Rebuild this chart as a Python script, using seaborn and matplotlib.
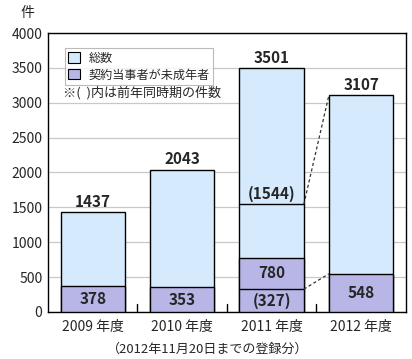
import matplotlib
matplotlib.use("Agg")
import matplotlib.pyplot as plt
import seaborn as sns
import pandas as pd
from matplotlib.patches import Patch

years = ["2009 年度", "2010 年度", "2011 年度", "2012 年度"]
total = [1437, 2043, 3501, 3107]
minor = [378, 353, 780, 548]
# 前年同時期の件数 (2011年度の棒の中に表示)
prev_total = 1544
prev_minor = 327

BLUE = "#d5eafc"
PURPLE = "#b8b6e6"

sns.set_theme(style="white")
plt.rcParams["font.family"] = ["Noto Sans CJK JP", "DejaVu Sans"]

df = pd.DataFrame({"year": years, "total": total, "minor": minor})

fig = plt.figure(figsize=(4.12, 3.59), dpi=100)
ax = fig.add_axes([0.1165, 0.131, 0.8685, 0.777])

sns.barplot(data=df, x="year", y="total", color=BLUE, edgecolor="black",
            linewidth=1.0, width=0.72, saturation=1, ax=ax, zorder=2)
sns.barplot(data=df, x="year", y="minor", color=PURPLE, edgecolor="black",
            linewidth=1.0, width=0.72, saturation=1, ax=ax, zorder=3)

ax.set_ylim(0, 4000)
ax.set_xlim(-0.5, 3.5)
ax.set_yticks(range(0, 4001, 500))
ax.set_xlabel("")
ax.set_ylabel("")
ax.yaxis.grid(True, color="#c8c8c8", linewidth=0.9, zorder=0)
ax.set_axisbelow(True)
for s in ax.spines.values():
    s.set_color("black")
    s.set_linewidth(1.0)
ax.tick_params(axis="y", length=0, labelsize=10, pad=4)
ax.tick_params(axis="x", length=0, labelsize=10, pad=6)

# category separators on the bottom axis
for xb in [0.5, 1.5, 2.5]:
    ax.plot([xb, xb], [0, 120], color="black", linewidth=1.0, zorder=4)

w = 0.36
# previous-year lines inside the 2011 bar
ax.plot([2 - w, 2 + w], [prev_total, prev_total], color="black", lw=1.0, zorder=4)
ax.plot([2 - w, 2 + w], [prev_minor, prev_minor], color="black", lw=1.0, zorder=4)
# dashed connectors to 2012
ax.plot([2 + w, 3 - w], [prev_total, total[3]], color="#333333", lw=0.9,
        ls=(0, (2.5, 2)), zorder=4)
ax.plot([2 + w, 3 - w], [prev_minor, minor[3]], color="#333333", lw=0.9,
        ls=(0, (2.5, 2)), zorder=4)

for i, (t, m) in enumerate(zip(total, minor)):
    ax.text(i, t + 30, str(t), ha="center", va="bottom", fontsize=11,
            fontweight="bold", zorder=5)
    if i == 2:
        ax.text(i, (m + prev_minor) / 2, str(m), ha="center", va="center",
                fontsize=11, fontweight="bold", zorder=5)
    else:
        ax.text(i, m / 2, str(m), ha="center", va="center", fontsize=11,
                fontweight="bold", zorder=5)
ax.text(2, prev_minor / 2 - 10, f"({prev_minor})", ha="center", va="center",
        fontsize=11, fontweight="bold", zorder=5)
ax.text(2, prev_total + 40, f"({prev_total})", ha="center", va="bottom",
        fontsize=11, fontweight="bold", zorder=5)

handles = [Patch(facecolor=BLUE, edgecolor="black", linewidth=0.8, label="総数"),
           Patch(facecolor=PURPLE, edgecolor="black", linewidth=0.8,
                 label="契約当事者が未成年者")]
leg = ax.legend(handles=handles, loc="upper left", bbox_to_anchor=(0.047, 0.946),
                fontsize=8.7, frameon=True, fancybox=False, borderpad=0.3,
                handlelength=0.95, handleheight=0.95, handletextpad=0.7,
                labelspacing=0.3, borderaxespad=0)
leg.get_frame().set_edgecolor("#aaaaaa")
leg.get_frame().set_linewidth(0.8)
leg.set_zorder(6)
ax.text(0.042, 0.785, "※(  )内は前年同時期の件数", transform=ax.transAxes,
        fontsize=9.4, va="center", ha="left", zorder=6)

fig.text(27 / 412, 1 - 13 / 359, "件", fontsize=10, ha="center", va="center")
fig.text(0.505, 1 - 349 / 359, "（2012年11月20日までの登録分）", fontsize=9.4,
         ha="center", va="center")

fig.savefig("out.png", dpi=100)
